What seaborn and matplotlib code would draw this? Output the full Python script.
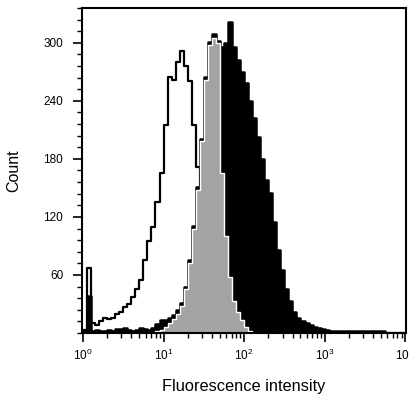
import numpy as np
import matplotlib
matplotlib.use("Agg")
import matplotlib.pyplot as plt
from matplotlib.ticker import MultipleLocator
import seaborn as sns

# channel centres in log10 units, 0.05 decade per channel (10^0 .. 10^4)
channels = np.arange(0.025, 4.0, 0.05)

# open histogram (outline only)
control = [3, 67, 10, 8, 12, 16, 14, 16, 20, 22,
           27, 30, 37, 46, 55, 75, 95, 110, 135, 165,
           215, 265, 262, 280, 292, 276, 260, 215, 172, 130,
           90, 60, 38, 22, 12, 6, 3, 2, 0, 0,
           0, 0, 0, 0, 0, 0, 0, 0, 0, 0,
           0, 0, 0, 0, 0, 0, 0, 0, 0, 0,
           0, 0, 0, 0, 0, 0, 0, 0, 0, 0,
           0, 0, 0, 0, 0, 0, 0, 0, 0, 0]

# black filled histogram
stained = [2, 38, 2, 3, 2, 2, 3, 2, 4, 4,
           5, 3, 2, 3, 5, 4, 3, 5, 9, 13,
           13, 15, 19, 24, 31, 48, 75, 111, 151, 201,
           265, 301, 309, 302, 296, 300, 322, 296, 282, 270,
           258, 240, 222, 203, 180, 158, 145, 115, 86, 65,
           45, 33, 22, 16, 12, 10, 8, 6, 5, 4,
           3, 2, 2, 2, 2, 2, 2, 2, 2, 2,
           2, 2, 2, 2, 2, 0, 0, 0, 0, 0]

# grey filled histogram
middle = [0, 0, 0, 0, 0, 0, 0, 0, 0, 0,
          0, 0, 0, 0, 0, 0, 0, 0, 2, 3,
          6, 10, 14, 20, 28, 45, 72, 108, 148, 198,
          262, 298, 305, 300, 165, 100, 58, 33, 22, 13,
          6, 2, 0, 0, 0, 0, 0, 0, 0, 0,
          0, 0, 0, 0, 0, 0, 0, 0, 0, 0,
          0, 0, 0, 0, 0, 0, 0, 0, 0, 0,
          0, 0, 0, 0, 0, 0, 0, 0, 0, 0]

sns.set_style("ticks")
plt.rcParams['font.family'] = ['Liberation Sans', 'DejaVu Sans']

fig = plt.figure(figsize=(4.09, 3.99), dpi=100)
ax = fig.add_axes([0.2005, 0.1654, 0.7922, 0.8146])

x = 10 ** channels
sns.histplot(x=x, weights=stained, bins=80, binrange=(0, 4), log_scale=True,
             element="step", fill=True, color="black", alpha=1,
             edgecolor="black", linewidth=1.8, zorder=1, ax=ax)
sns.histplot(x=x, weights=control, bins=80, binrange=(0, 4), log_scale=True,
             element="step", fill=False, color="black", linewidth=1.6,
             zorder=2.1, ax=ax)
sns.histplot(x=x, weights=middle, bins=80, binrange=(0, 4), log_scale=True,
             element="step", fill=True, color="#a3a3a3", alpha=1,
             edgecolor="white", linewidth=1.0, zorder=2.2, ax=ax)

ax.set_xlim(10 ** -0.012, 10 ** 4.01)
ax.set_ylim(0, 336)
ax.set_yticks([60, 120, 180, 240, 300])
ax.yaxis.set_minor_locator(MultipleLocator(12))

for s in ax.spines.values():
    s.set_visible(True)
    s.set_linewidth(1.5)
    s.set_color("black")
    s.set_zorder(3)
ax.tick_params(which="major", direction="out", length=6.5, width=1.2,
               labelsize=8.5, colors="black", labelcolor="black", pad=4)
ax.tick_params(axis="y", which="major", pad=7)
ax.tick_params(which="minor", direction="out", length=3.6, width=1.0,
               colors="black")

ax.set_xlabel("Fluorescence intensity", fontsize=11.8, labelpad=12, color="black")
ax.set_ylabel("Count", fontsize=11.5, labelpad=16, color="black")

fig.savefig("out.png", dpi=100)
